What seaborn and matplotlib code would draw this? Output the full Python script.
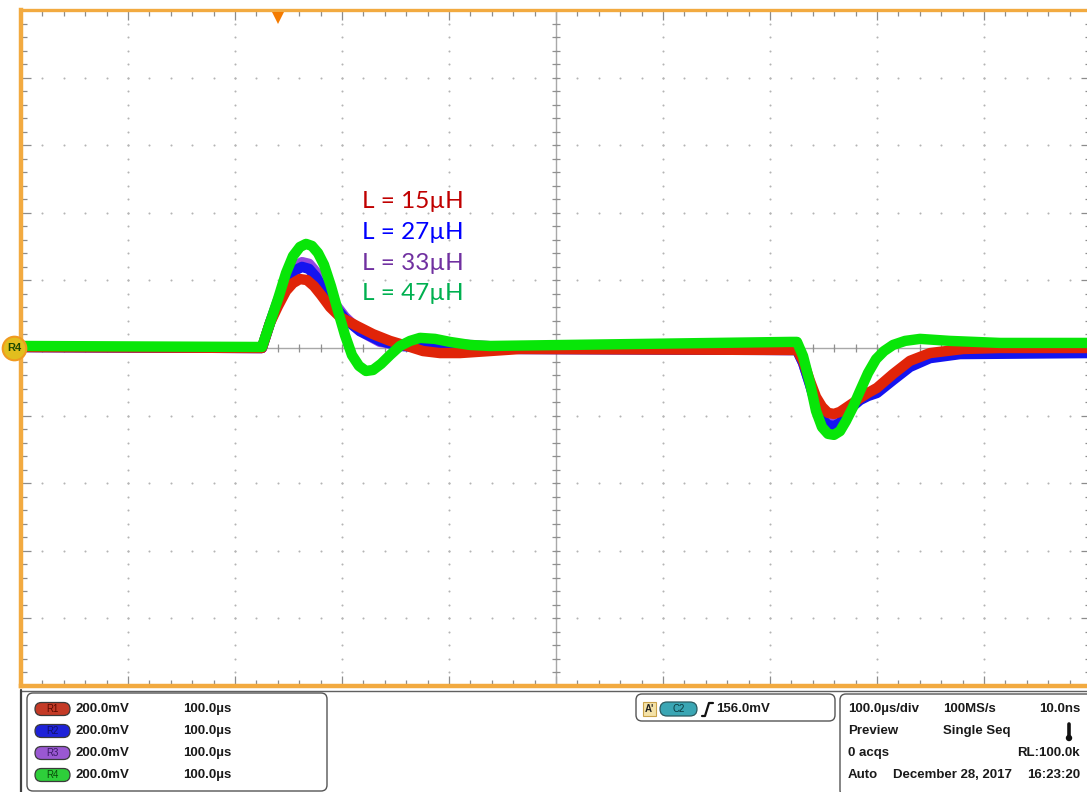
import numpy as np
import pandas as pd
import matplotlib
matplotlib.use("Agg")
import matplotlib.pyplot as plt
import seaborn as sns
from matplotlib.patches import FancyBboxPatch, Rectangle, Circle
import matplotlib.transforms as mtrans

# ---------------- data (time in µs, voltage in mV; 100 µs/div, 200 mV/div) ----------------
series_names = ["L = 33µH", "L = 27µH", "L = 15µH", "L = 47µH"]   # draw order
legend_order = ["L = 15µH", "L = 27µH", "L = 33µH", "L = 47µH"]

t_15 = [0, 225.2, 232.7, 240.2, 247.7, 254.2, 260.7, 267.3, 273.8, 280.4, 288.8, 298.1, 314.0,
        329.0, 344.9, 360.7, 375.7, 391.6, 410.3, 438.3, 466.4,
        725.2, 730.9, 737.4, 743.0, 748.6, 754.2, 759.8, 765.4, 771.0, 777.5, 784.1, 791.6,
        800.0, 815.0, 830.8, 849.5, 880.4, 915.0, 996.3]
v_15 = [3, 0, 74, 124, 169, 192, 204, 201, 183, 157, 121, 92, 65,
        41, 21, 6, -9, -15, -15, -9, -3,
        -6, -38, -98, -145, -174, -192, -195, -189, -177, -163, -148, -133,
        -118, -77, -38, -15, -3, 0, 0]

t_27 = [0, 225.2, 232.7, 240.2, 247.7, 255.2, 262.6, 269.2, 275.7, 282.2, 290.7, 302.8, 316.8,
        335.5, 354.2, 372.9, 391.6, 419.6, 466.4,
        725.2, 730.9, 737.4, 743.0, 748.6, 754.2, 759.8, 765.4, 771.0, 777.5, 784.1, 791.6,
        800.0, 815.0, 830.8, 849.5, 877.6, 996.3]
v_27 = [3, 0, 74, 139, 192, 228, 240, 234, 210, 175, 133, 86, 50,
        21, 6, 3, 9, 6, -3,
        -6, -44, -109, -169, -210, -228, -231, -222, -198, -172, -154, -142,
        -133, -95, -56, -30, -18, -15]

t_33 = t_27
v_33 = [3, 0, 74, 142, 201, 240, 254, 249, 225, 186, 142, 92, 50,
        18, 9, 12, 15, 9, 0,
        -6, -44, -107, -163, -201, -219, -222, -213, -192, -166, -148, -133,
        -124, -86, -47, -24, -12, -9]

t_47 = [0, 225.2, 232.7, 240.2, 247.7, 254.2, 260.7, 266.4, 271.9, 277.6, 283.2, 289.7, 296.3,
        302.8, 309.3, 315.9, 322.4, 329.0, 336.5, 344.9, 354.2, 363.6, 372.9, 386.9, 400.9,
        419.6, 438.3, 718.7, 725.2, 730.9, 737.4, 743.0, 748.6, 754.2, 759.8, 765.4, 771.0,
        777.5, 784.1, 791.6, 799.1, 806.6, 815.0, 826.2, 840.2, 868.2, 915.0, 996.3]
v_47 = [6, 3, 74, 145, 222, 272, 299, 308, 302, 281, 246, 183, 109,
        38, -21, -53, -68, -65, -47, -21, 6, 21, 30, 27, 18,
        9, 6, 18, 18, -24, -104, -186, -234, -254, -257, -246, -216,
        -175, -127, -74, -33, -9, 9, 21, 27, 21, 15, 15]

trace_colors = {"L = 15µH": "#E02408", "L = 27µH": "#1414F0",
                "L = 33µH": "#9448E0", "L = 47µH": "#08E608"}
label_colors = {"L = 15µH": "#C00000", "L = 27µH": "#0000FF",
                "L = 33µH": "#7030A0", "L = 47µH": "#00B050"}

trigger_time = 240.0

ref_labels = ["R1", "R2", "R3", "R4"]
ref_scale = ["200.0mV", "200.0mV", "200.0mV", "200.0mV"]
ref_time = ["100.0µs", "100.0µs", "100.0µs", "100.0µs"]
trigger_text = "156.0mV"
info_rows = [["100.0µs/div", "100MS/s", "10.0ns"],
             ["Preview", "Single Seq", ""],
             ["0 acqs", "", "RL:100.0k"],
             ["Auto", "December 28, 2017", "16:23:20"]]

# ---------------- figure ----------------
sns.set_style("white")
plt.rcParams["font.family"] = ["Liberation Sans", "DejaVu Sans"]

W, H = 1087, 792
fig = plt.figure(figsize=(W / 100, H / 100), dpi=100)
fig.patch.set_facecolor("white")

ax = fig.add_axes([21 / W, 1 - 686 / H, 1070 / W, 676 / H])
ax.set_xlim(0, 1000)
ax.set_ylim(-1000, 1000)
ax.set_facecolor("white")

# graticule dots
xmajor = np.arange(0, 1001, 100)
ymajor = np.arange(-1000, 1001, 200)
xminor = np.arange(0, 1001, 20)
yminor = np.arange(-1000, 1001, 40)
gx, gy = np.meshgrid(xmajor, yminor)
ax.scatter(gx.ravel(), gy.ravel(), s=2.2, color="#B4B4B4", linewidths=0, zorder=1)
gx, gy = np.meshgrid(xminor, ymajor)
ax.scatter(gx.ravel(), gy.ravel(), s=2.2, color="#B4B4B4", linewidths=0, zorder=1)

# center cross with ticks
ax.axhline(0, color="#A8A8A8", lw=1.0, zorder=1)
ax.axvline(500, color="#A8A8A8", lw=1.0, zorder=1)
ax.vlines(xminor, -12, 12, color="#909090", lw=0.9, zorder=1)
ax.hlines(yminor, 496, 504, color="#909090", lw=0.9, zorder=1)

# traces
frames = []
for name, t, v in [("L = 15µH", t_15, v_15), ("L = 27µH", t_27, v_27),
                   ("L = 33µH", t_33, v_33), ("L = 47µH", t_47, v_47)]:
    frames.append(pd.DataFrame({"t": t, "v": v, "L": name}))
df = pd.concat(frames, ignore_index=True)

sns.lineplot(data=df, x="t", y="v", hue="L", hue_order=series_names,
             palette=trace_colors, estimator=None, sort=False, legend=False,
             linewidth=7.5, ax=ax, zorder=3,
             solid_joinstyle="round", solid_capstyle="butt")
ax.set_xlabel("")
ax.set_ylabel("")

# in-plot labels
label_y = [432, 343, 251, 160]
for name, yv in zip(legend_order, label_y):
    ax.text(319, yv, name, color=label_colors[name], fontsize=17.5,
            family=["Lato", "DejaVu Sans"], va="center", ha="left", zorder=5)

# ticks along edges
ax.set_xticks(xmajor)
ax.set_xticks(xminor, minor=True)
ax.set_yticks(ymajor)
ax.set_yticks(yminor, minor=True)
ax.tick_params(which="both", direction="in", top=True, bottom=True, left=True, right=True,
               labelbottom=False, labelleft=False, color="#8C8C8C", width=0.9)
ax.tick_params(which="major", length=7)
ax.tick_params(which="minor", length=4.5)

orange = "#F2AA40"
for side in ["left", "top", "bottom"]:
    ax.spines[side].set_color(orange)
ax.spines["left"].set_linewidth(3.2)
ax.spines["top"].set_linewidth(2.4)
ax.spines["bottom"].set_linewidth(3.2)
ax.spines["right"].set_visible(False)

# trigger marker
trans = mtrans.blended_transform_factory(ax.transData, ax.transAxes)
ax.plot([trigger_time], [0.988], marker="v", markersize=8, color="#F47B00",
        transform=trans, clip_on=False, zorder=6, markeredgewidth=0)

# R4 reference marker
ax.plot([-6.5], [0], marker="o", markersize=17, markerfacecolor="#E2BE1E",
        markeredgecolor="#F09A20", markeredgewidth=1.5, clip_on=False, zorder=7)
ax.text(-6.5, 0, "R4", color="#1E4A00", fontsize=8, fontweight="bold",
        ha="center", va="center", zorder=8, clip_on=False)

# ---------------- bottom panel (overlay axes in pixel units) ----------------
ov = fig.add_axes([0, 0, 1, 1], zorder=-1)
ov.set_xlim(0, W)
ov.set_ylim(H, 0)
ov.axis("off")
ov.patch.set_alpha(0)

ov.plot([21, W], [690.5, 690.5], color="#606060", lw=1.0)
ov.plot([21, 21], [690, H], color="#404040", lw=1.6)

def rbox(x0, y0, x1, y1, r=6, fc="white", ec="#555555", lw=1.0):
    ov.add_patch(FancyBboxPatch((x0, y0), x1 - x0, y1 - y0,
                                boxstyle=f"round,pad=0,rounding_size={r}",
                                facecolor=fc, edgecolor=ec, lw=lw, clip_on=False))

rbox(27, 693, 327, 791)
rbox(636, 694, 835, 721)
rbox(840, 694, 1095, 796)

pill_face = ["#C43A26", "#1E22D8", "#9A58D2", "#2ECF3A"]
pill_text = ["#5A0A00", "#10106A", "#3A1A66", "#0A4A0A"]
rows_y = [709, 731, 753, 775]
txt_kw = dict(fontsize=9.5, fontweight="bold", color="#1A1A1A", va="center")
for i, y in enumerate(rows_y):
    rbox(35, y - 6.5, 70, y + 6.5, r=6.5, fc=pill_face[i], ec="#3A3A3A", lw=0.9)
    ov.text(52.5, y, ref_labels[i], fontsize=7, color=pill_text[i],
            ha="center", va="center")
    ov.text(76, y, ref_scale[i], ha="left", **txt_kw)
    ov.text(183, y, ref_time[i], ha="left", **txt_kw)

# trigger box contents
ov.add_patch(Rectangle((643, 702), 13, 14, facecolor="#F4E2A8", edgecolor="#C9A24A", lw=0.8))
ov.text(649.5, 709, "A'", fontsize=7, fontweight="bold", color="#222222",
        ha="center", va="center")
rbox(660, 702, 697, 716, r=7, fc="#3AA6B4", ec="#2A5A60", lw=0.9)
ov.text(678.5, 709, "C2", fontsize=7, color="#0A3A40", ha="center", va="center")
ov.plot([702, 705, 709, 713], [716, 716, 703, 703], color="#111111", lw=1.6)
ov.text(716, 709, trigger_text, ha="left", **txt_kw)

# right info box
col_x = [848, 943, 1080]
for r, (row, y) in enumerate(zip(info_rows, rows_y)):
    if row[0]:
        ov.text(col_x[0], y, row[0], ha="left", **txt_kw)
    if row[1]:
        xx = 893 if r == 3 else col_x[1]
        ov.text(xx, y, row[1], ha="left", **txt_kw)
    if row[2]:
        ov.text(col_x[2], y, row[2], ha="right", **txt_kw)

# thermometer-like icon
ov.plot([1069, 1069], [724, 736], color="#111111", lw=2.6)
ov.add_patch(Circle((1069, 738), 3.2, facecolor="#111111", edgecolor="none"))

fig.savefig("out.png", dpi=100, facecolor="white")
